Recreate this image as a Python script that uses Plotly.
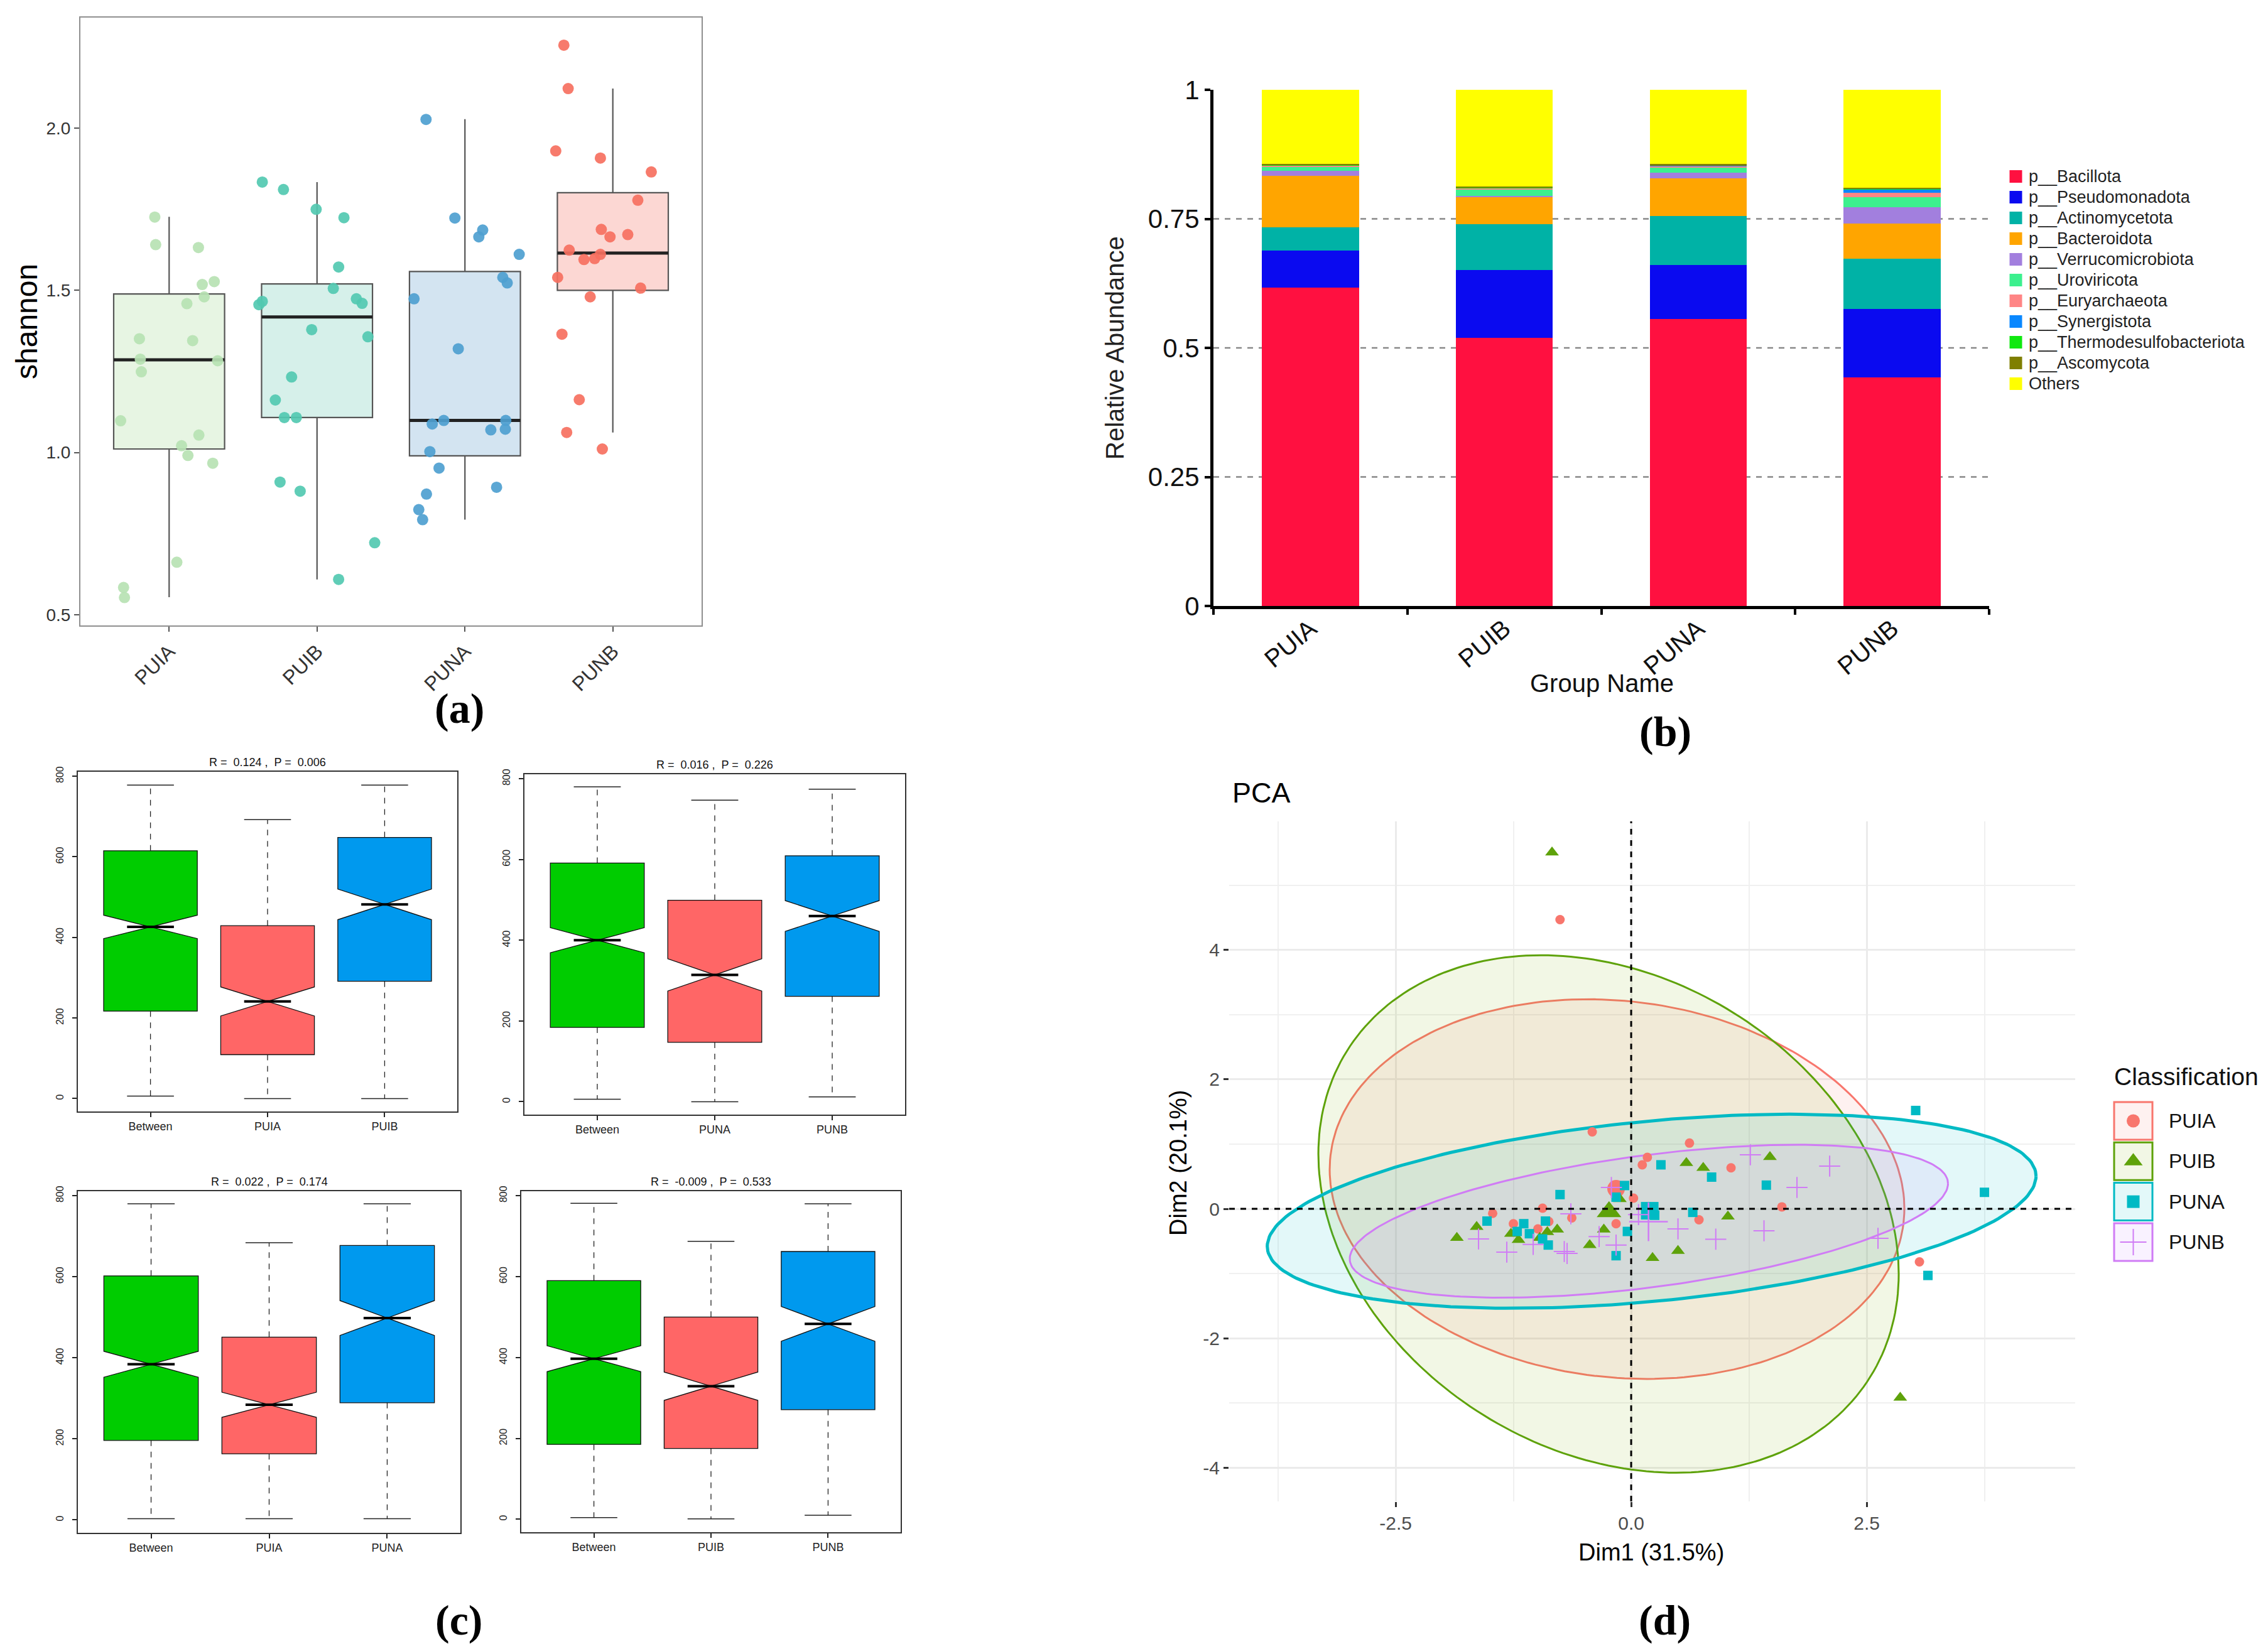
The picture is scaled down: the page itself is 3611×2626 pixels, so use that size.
import numpy as np
import plotly.graph_objects as go

W, H = 3611, 2626
def px(x):
    return x / W
def py(y):
    return 1 - y / H

FONT = "Liberation Sans, Arial, sans-serif"
SERIF = "Liberation Serif, Times New Roman, serif"

# ---------------- Panel (a): shannon boxplots ----------------
A_GROUPS = ["PUIA", "PUIB", "PUNA", "PUNB"]
A_Q1 = [1.011, 1.108, 0.990, 1.500]
A_MED = [1.286, 1.418, 1.099, 1.615]
A_Q3 = [1.489, 1.520, 1.558, 1.801]
A_LO = [0.554, 0.609, 0.793, 1.062]
A_HI = [1.727, 1.834, 2.028, 2.122]
A_PUIA_X = [0.903, 0.909, 1.198, 1.224, 1.305, 1.120, 1.237, 0.799, 1.159, 0.805,
            1.328, 0.812, 0.672, 1.084, 1.127, 1.201, 1.295, 1.052, 0.692, 0.698]
A_PUIA_Y = [1.726, 1.641, 1.632, 1.518, 1.527, 1.459, 1.480, 1.351, 1.345, 1.288,
            1.283, 1.249, 1.098, 1.021, 0.991, 1.054, 0.967, 0.662, 0.584, 0.553]
A_PUIB_X = [1.630, 1.773, 1.994, 2.182, 2.146, 2.110, 1.630, 1.607, 2.266, 2.305,
            1.964, 2.344, 1.828, 1.718, 1.779, 1.860, 1.750, 1.886, 2.390, 2.146]
A_PUIB_Y = [1.834, 1.811, 1.750, 1.724, 1.572, 1.506, 1.466, 1.456, 1.474, 1.460,
            1.379, 1.357, 1.233, 1.162, 1.108, 1.108, 0.909, 0.881, 0.722, 0.609]
A_PUNA_X = [2.737, 2.932, 3.120, 3.094, 3.367, 3.256, 3.286, 2.656, 2.955, 2.779,
            2.857, 3.175, 3.276, 3.273, 2.763, 2.825, 3.214, 2.740, 2.688, 2.714]
A_PUNA_Y = [2.027, 1.723, 1.686, 1.665, 1.611, 1.540, 1.523, 1.474, 1.320, 1.088,
            1.099, 1.070, 1.099, 1.072, 1.003, 0.952, 0.893, 0.872, 0.824, 0.793]
A_PUNB_X = [3.669, 3.698, 3.614, 3.916, 4.260, 4.169, 3.922, 3.981, 4.101, 3.705,
            3.805, 3.877, 3.916, 3.627, 4.188, 3.847, 3.656, 3.773, 3.688, 3.929]
A_PUNB_Y = [2.256, 2.122, 1.930, 1.908, 1.865, 1.778, 1.688, 1.665, 1.672, 1.624,
            1.595, 1.598, 1.611, 1.540, 1.507, 1.480, 1.365, 1.163, 1.062, 1.011]
A_PTS_X = [A_PUIA_X, A_PUIB_X, A_PUNA_X, A_PUNB_X]
A_PTS_Y = [A_PUIA_Y, A_PUIB_Y, A_PUNA_Y, A_PUNB_Y]
A_BOX_FILL = ["#E7F5E3", "#D6F0EA", "#D3E4F1", "#FCD7D3"]
A_PT_COL = ["#B7E2B3", "#52C9B1", "#4E9FD0", "#F6705F"]

# ---------------- Panel (b): relative abundance ----------------
B_GROUPS = ["PUIA", "PUIB", "PUNA", "PUNB"]
B_TAXA = ["p__Bacillota", "p__Pseudomonadota", "p__Actinomycetota", "p__Bacteroidota",
          "p__Verrucomicrobiota", "p__Uroviricota", "p__Euryarchaeota", "p__Synergistota",
          "p__Thermodesulfobacteriota", "p__Ascomycota", "Others"]
B_BACILLOTA = [0.617, 0.519, 0.556, 0.443]
B_PSEUDOMONADOTA = [0.072, 0.132, 0.104, 0.133]
B_ACTINOMYCETOTA = [0.044, 0.089, 0.095, 0.097]
B_BACTEROIDOTA = [0.100, 0.053, 0.073, 0.068]
B_VERRUCOMICROBIOTA = [0.010, 0.002, 0.012, 0.032]
B_UROVIRICOTA = [0.008, 0.012, 0.010, 0.019]
B_EURYARCHAEOTA = [0.002, 0.002, 0.002, 0.009]
B_SYNERGISTOTA = [0.001, 0.001, 0.001, 0.006]
B_THERMODESULFO = [0.001, 0.001, 0.001, 0.001]
B_ASCOMYCOTA = [0.002, 0.002, 0.002, 0.002]
B_OTHERS = [0.143, 0.187, 0.144, 0.190]
B_VALUES = [B_BACILLOTA, B_PSEUDOMONADOTA, B_ACTINOMYCETOTA, B_BACTEROIDOTA,
            B_VERRUCOMICROBIOTA, B_UROVIRICOTA, B_EURYARCHAEOTA, B_SYNERGISTOTA,
            B_THERMODESULFO, B_ASCOMYCOTA, B_OTHERS]
B_COLORS = ["#FF1040", "#0A0AF0", "#00B2A6", "#FFA500", "#A27FDE", "#3CF08E",
            "#FF8585", "#0A88FF", "#10E810", "#7F7F00", "#FFFF00"]
B_GRID = [0.25, 0.5, 0.75]
B_TICKS = [0, 0.25, 0.5, 0.75, 1]
B_TICKTEXT = ["0", "0.25", "0.5", "0.75", "1"]

# ---------------- Panel (c): ANOSIM boxplots ----------------
C_TITLES = ["R =  0.124 ,  P =  0.006", "R =  0.016 ,  P =  0.226",
            "R =  0.022 ,  P =  0.174", "R =  -0.009 ,  P =  0.533"]
C_LABELS = [["Between", "PUIA", "PUIB"], ["Between", "PUNA", "PUNB"],
            ["Between", "PUIA", "PUNA"], ["Between", "PUIB", "PUNB"]]
C_Q1 = [[217, 109, 291], [184, 147, 261], [196, 163, 289], [185, 175, 271]]
C_MED = [[426, 241, 482], [400, 314, 460], [384, 284, 498], [397, 329, 483]]
C_Q3 = [[615, 429, 648], [591, 499, 609], [602, 451, 677], [590, 500, 662]]
C_LO = [[6, 0, 0], [6, 0, 12], [3, 3, 3], [4, 1, 10]]
C_HI = [[778, 692, 778], [780, 747, 774], [780, 684, 780], [781, 687, 780]]
C_NOTCH = [[29, 36, 38], [31, 40, 38], [32, 31, 43], [32, 35, 43]]
C_COLORS = ["#00CC00", "#FF6666", "#0099EE"]
C_YTICKS = [0, 200, 400, 600, 800]

# ---------------- Panel (d): PCA ----------------
D_GROUPS = ["PUIA", "PUIB", "PUNA", "PUNB"]
D_PUIA_X = [-0.755, -0.413, 0.172, 0.118, 0.619, 1.06, 0.025, 1.6, 0.72, 3.06,
            -0.94, -1.47, -0.63, -0.16, -1.25, -0.99, -0.874]
D_PUIA_Y = [4.47, 1.19, 0.796, 0.68, 1.016, 0.634, 0.165, 0.03, -0.17, -0.82,
            0.01, -0.07, -0.14, -0.23, -0.23, -0.31, -0.197]
D_PUIB_X = [-0.84, 2.856, -1.85, -1.64, -1.276, -1.196, -0.97, -0.89, -0.785, -0.44,
            -0.29, 0.227, 0.586, 0.765, 1.473, 1.027, 0.497, -0.12]
D_PUIB_Y = [5.51, -2.92, -0.45, -0.28, -0.385, -0.48, -0.45, -0.36, -0.32, -0.56,
            -0.32, -0.76, 0.709, 0.634, 0.80, -0.12, -0.65, 0.15]
D_PUNA_X = [-0.755, -1.53, -1.14, -1.21, -1.08, -0.91, -0.94, -0.88, -0.16, -0.04,
            -0.07, -0.16, 0.316, 0.854, 1.435, 0.654, 3.02, 3.75, 3.15, 0.25]
D_PUNA_Y = [0.22, -0.19, -0.23, -0.35, -0.385, -0.19, -0.466, -0.56, -0.725, -0.35,
            0.36, 0.18, 0.68, 0.49, 0.366, -0.055, 1.52, 0.255, -1.03, -0.1]
D_PUNB_X = [-1.62, -1.32, -1.04, -0.71, -0.68, -0.64, -0.34, -0.16, -0.21, 0.078,
            0.497, 0.898, 1.41, 1.265, 1.76, 2.107, 2.62]
D_PUNB_Y = [-0.466, -0.67, -0.55, -0.66, -0.69, -0.078, -0.43, -0.56, 0.33, -0.09,
            -0.31, -0.47, -0.34, 0.835, 0.33, 0.66, -0.456]
D_PTS_X = [D_PUIA_X, D_PUIB_X, D_PUNA_X, D_PUNB_X]
D_PTS_Y = [D_PUIA_Y, D_PUIB_Y, D_PUNA_Y, D_PUNB_Y]
D_CENT_X = [-0.16, -0.235, 0.197, 0.184]
D_CENT_Y = [0.31, -0.045, -0.03, -0.20]
# ellipse: centre x, centre y, half-width, y-offset of rightmost point, half-height
D_ELL_CX = [-0.15, -0.24, 0.2175, 0.188]
D_ELL_CY = [0.305, -0.08, -0.0375, -0.192]
D_ELL_A = [3.05, 3.08, 4.08, 3.175]
D_ELL_U = [-0.30, -0.93, 0.5425, 0.582]
D_ELL_E = [2.935, 4.00, 1.50, 1.182]
D_COLORS = ["#F8766D", "#5EA20A", "#00BAC4", "#D07CF5"]
D_FILLS = ["rgba(248,118,109,0.10)", "rgba(124,174,0,0.10)",
           "rgba(0,191,196,0.11)", "rgba(199,124,255,0.10)"]
D_LINEW = [3, 3, 5, 3]
D_SYMBOLS = ["circle", "triangle-up", "square", "cross-thin-open"]
D_SIZES = [15, 19, 15, 24]
D_CSIZES = [28, 34, 28, 44]

fig = go.Figure()

# ---- Panel a traces
for i, g in enumerate(A_GROUPS):
    fig.add_trace(go.Box(x=[i + 1], q1=[A_Q1[i]], median=[A_MED[i]], q3=[A_Q3[i]],
                         lowerfence=[A_LO[i]], upperfence=[A_HI[i]], width=0.75,
                         fillcolor=A_BOX_FILL[i], line=dict(color="#555555", width=2.2),
                         whiskerwidth=0, xaxis="x", yaxis="y", hoverinfo="skip"))
    fig.add_trace(go.Scatter(x=[i + 1 - 0.375, i + 1 + 0.375], y=[A_MED[i], A_MED[i]],
                             mode="lines", line=dict(color="#222222", width=5),
                             xaxis="x", yaxis="y", hoverinfo="skip"))
for i, g in enumerate(A_GROUPS):
    fig.add_trace(go.Scatter(x=A_PTS_X[i], y=A_PTS_Y[i], mode="markers",
                             marker=dict(color=A_PT_COL[i], size=18, opacity=0.92),
                             xaxis="x", yaxis="y", hoverinfo="skip"))

# ---- Panel b traces
for name, vals, col in zip(B_TAXA, B_VALUES, B_COLORS):
    fig.add_trace(go.Bar(x=B_GROUPS, y=vals, name=name, marker=dict(color=col, line=dict(width=0)),
                         width=0.5, xaxis="x2", yaxis="y2", hoverinfo="skip"))

# ---- Panel c traces
for k in range(4):
    xa, ya = "x%d" % (k + 3), "y%d" % (k + 3)
    wx, wy, cx_, cy_, mx, my = [], [], [], [], [], []
    for j in range(3):
        pos = j + 1
        fig.add_trace(go.Box(x=[pos], q1=[C_Q1[k][j]], median=[C_MED[k][j]], q3=[C_Q3[k][j]],
                             lowerfence=[C_Q1[k][j]], upperfence=[C_Q3[k][j]],
                             notched=True, notchspan=[C_NOTCH[k][j]], notchwidth=0.5,
                             width=0.8, fillcolor=C_COLORS[j],
                             line=dict(color="#111111", width=1.3), whiskerwidth=0,
                             xaxis=xa, yaxis=ya, hoverinfo="skip"))
        wx += [pos, pos, None, pos, pos, None]
        wy += [C_Q3[k][j], C_HI[k][j], None, C_Q1[k][j], C_LO[k][j], None]
        cx_ += [pos - 0.2, pos + 0.2, None, pos - 0.2, pos + 0.2, None]
        cy_ += [C_HI[k][j], C_HI[k][j], None, C_LO[k][j], C_LO[k][j], None]
        mx += [pos - 0.2, pos + 0.2, None]
        my += [C_MED[k][j], C_MED[k][j], None]
    fig.add_trace(go.Scatter(x=wx, y=wy, mode="lines", line=dict(color="#222222", width=1.3, dash="dash"),
                             xaxis=xa, yaxis=ya, hoverinfo="skip"))
    fig.add_trace(go.Scatter(x=cx_, y=cy_, mode="lines", line=dict(color="#222222", width=1.5),
                             xaxis=xa, yaxis=ya, hoverinfo="skip"))
    fig.add_trace(go.Scatter(x=mx, y=my, mode="lines", line=dict(color="#000000", width=4),
                             xaxis=xa, yaxis=ya, hoverinfo="skip"))

# ---- Panel d traces
t = np.linspace(0, 2 * np.pi, 241)
for i, g in enumerate(D_GROUPS):
    v = np.sqrt(D_ELL_E[i] ** 2 - D_ELL_U[i] ** 2)
    ex = D_ELL_CX[i] + D_ELL_A[i] * np.cos(t)
    ey = D_ELL_CY[i] + D_ELL_U[i] * np.cos(t) + v * np.sin(t)
    fig.add_trace(go.Scatter(x=ex, y=ey, mode="lines", fill="toself", fillcolor=D_FILLS[i],
                             line=dict(color=D_COLORS[i], width=D_LINEW[i]),
                             xaxis="x7", yaxis="y7", hoverinfo="skip"))
for i, g in enumerate(D_GROUPS):
    mk = dict(color=D_COLORS[i], size=D_SIZES[i], symbol=D_SYMBOLS[i])
    if i == 3:
        mk["line"] = dict(color=D_COLORS[i], width=2)
    fig.add_trace(go.Scatter(x=D_PTS_X[i], y=D_PTS_Y[i], mode="markers", marker=mk,
                             xaxis="x7", yaxis="y7", hoverinfo="skip"))
    mk2 = dict(mk)
    mk2["size"] = D_CSIZES[i]
    if i == 3:
        mk2["line"] = dict(color=D_COLORS[i], width=2.5)
    fig.add_trace(go.Scatter(x=[D_CENT_X[i]], y=[D_CENT_Y[i]], mode="markers", marker=mk2,
                             xaxis="x7", yaxis="y7", hoverinfo="skip"))

shapes = []
annotations = []

def pann(x, y, text, size, family=FONT, color="black", angle=0, xanchor="center", yanchor="middle"):
    return dict(x=px(x), y=py(y), xref="paper", yref="paper", text=text, showarrow=False,
                textangle=angle, xanchor=xanchor, yanchor=yanchor,
                font=dict(family=family, size=size, color=color))

# ---- Panel b legend (own small axis in pixel-like units)
LEGB_Y0, LEGB_DY = 273, 33
for i, name in enumerate(B_TAXA):
    yc = LEGB_Y0 + LEGB_DY * i
    fig.add_trace(go.Scatter(x=[3201.5], y=[yc], mode="markers",
                             marker=dict(symbol="square", size=20, color=B_COLORS[i]),
                             xaxis="x9", yaxis="y9", hoverinfo="skip"))
    annotations.append(dict(x=3220, y=yc, xref="x9", yref="y9", text=name, showarrow=False,
                            xanchor="left", yanchor="middle",
                            font=dict(family=FONT, size=27, color="#222222")))

# ---- Panel d legend (own small axis in pixel-like units)
LEG_Y0, LEG_DY = 1777, 64.3
for i, g in enumerate(D_GROUPS):
    yc = LEG_Y0 + LEG_DY * i
    shapes.append(dict(type="rect", xref="x8", yref="y8", x0=3358, x1=3419, y0=yc - 30, y1=yc + 30,
                       line=dict(color=D_COLORS[i], width=3), fillcolor=D_FILLS[i], layer="below"))
    mk = dict(color=D_COLORS[i], size=[21, 26, 20, 30][i], symbol=D_SYMBOLS[i])
    if i == 3:
        mk["line"] = dict(color=D_COLORS[i], width=2)
    fig.add_trace(go.Scatter(x=[3388.5], y=[yc], mode="markers", marker=mk,
                             xaxis="x8", yaxis="y8", hoverinfo="skip"))
    annotations.append(dict(x=3443, y=yc, xref="x8", yref="y8", text=g, showarrow=False,
                            xanchor="left", yanchor="middle", font=dict(family=FONT, size=32, color="#111111")))

annotations.append(pann(3356, 1706, "Classification", 39, color="#111111", xanchor="left"))

# ---- zero lines (panel d)
shapes.append(dict(type="line", xref="x7", yref="y7 domain", x0=0, x1=0, y0=0, y1=1,
                   line=dict(color="black", width=3, dash="dash"), layer="above"))
shapes.append(dict(type="line", xref="x7 domain", yref="y7", x0=0, x1=1, y0=0, y1=0,
                   line=dict(color="black", width=3, dash="dash"), layer="above"))
# ---- grid lines (panel b)
for gv in B_GRID:
    shapes.append(dict(type="line", xref="x2 domain", yref="y2", x0=0, x1=1, y0=gv, y1=gv,
                       line=dict(color="#888888", width=2.5, dash="dash"), layer="below"))

# ---- text annotations
annotations += [
    pann(34, 504, "shannon", 48, angle=-90),
    pann(1767, 546, "Relative Abundance", 40, color="#222222", angle=-90),
    pann(2542, 1080, "Group Name", 40, color="#111111"),
    pann(1952, 1254, "PCA", 45, xanchor="left"),
    pann(2621, 2464, "Dim1 (31.5%)", 38),
    pann(1868, 1844, "Dim2 (20.1%)", 38, angle=-90),
]
for lab, (lx, ly) in zip(["(a)", "(b)", "(c)", "(d)"], [(723, 1120), (2643, 1157), (722, 2572), (2642, 2572)]):
    annotations.append(pann(lx, ly, "<b>%s</b>" % lab, 68, family=SERIF))

# panel c frames (x0, x1, y_top, y_bottom)
C_FRAMES = [(116, 720, 1221, 1762), (827, 1433, 1225, 1767), (116, 725, 1889, 2433), (822, 1426, 1889, 2432)]
for k, (x0, x1, yt, yb) in enumerate(C_FRAMES):
    annotations.append(pann((x0 + x1) / 2, yt - 3, C_TITLES[k], 18, color="#111111", yanchor="bottom"))

layout = dict(
    width=W, height=H, autosize=False, margin=dict(l=0, r=0, t=0, b=0),
    paper_bgcolor="white", plot_bgcolor="white", template="none",
    barmode="stack", boxmode="overlay", hovermode=False, showlegend=False,
    font=dict(family=FONT, color="#222222"),
    shapes=shapes, annotations=annotations,
)

# panel a axes
layout["xaxis"] = dict(domain=[px(120), px(1109)], range=[0.4, 4.6], tickvals=[1, 2, 3, 4],
                       ticktext=A_GROUPS, tickangle=-45, ticks="outside", ticklen=8, tickwidth=2,
                       tickcolor="#555555", showline=True, mirror=True, linecolor="#8f8f8f",
                       linewidth=2, showgrid=False, zeroline=False, anchor="y",
                       tickfont=dict(family=FONT, size=32, color="#333333"))
layout["yaxis"] = dict(domain=[py(988), py(20)], range=[0.467, 2.341], tickvals=[0.5, 1, 1.5, 2],
                       ticktext=["0.5", "1.0", "1.5", "2.0"], ticks="outside", ticklen=8, tickwidth=2,
                       tickcolor="#555555", showline=True, mirror=True, linecolor="#8f8f8f",
                       linewidth=2, showgrid=False, zeroline=False, anchor="x",
                       tickfont=dict(family=FONT, size=28, color="#333333"))
# panel b axes
layout["xaxis2"] = dict(domain=[px(1924), px(3159)], type="category", range=[-0.5, 3.5],
                        tickson="boundaries", ticks="outside", ticklen=9, tickwidth=4, tickcolor="black",
                        showline=True, linecolor="black", linewidth=5, showgrid=False, zeroline=False,
                        tickangle=-40, ticklabelstandoff=-8, anchor="y2",
                        tickfont=dict(family=FONT, size=40, color="#111111"))
layout["yaxis2"] = dict(domain=[py(957), py(135)], range=[0, 1], tickvals=B_TICKS, ticktext=B_TICKTEXT,
                        ticks="outside", ticklen=9, tickwidth=4, tickcolor="black", showline=True,
                        linecolor="black", linewidth=5, showgrid=False, zeroline=False, anchor="x2",
                        tickfont=dict(family=FONT, size=42, color="#111111"))
# panel c axes
for k, (x0, x1, yt, yb) in enumerate(C_FRAMES):
    n = k + 3
    layout["xaxis%d" % n] = dict(domain=[px(x0), px(x1)], range=[0.38, 3.62], tickvals=[1, 2, 3],
                                 ticktext=C_LABELS[k], ticks="outside", ticklen=7, tickwidth=1.5,
                                 tickcolor="#222222", showline=True, mirror=True, linecolor="#333333",
                                 linewidth=1.5, showgrid=False, zeroline=False, anchor="y%d" % n,
                                 tickfont=dict(family=FONT, size=18, color="#222222"))
    layout["yaxis%d" % n] = dict(domain=[py(yb), py(yt)], range=[-32, 811], tickvals=C_YTICKS,
                                 ticks="outside", ticklen=7, tickwidth=1.5, tickcolor="#222222",
                                 tickangle=-90, showline=True, mirror=True, linecolor="#333333",
                                 linewidth=1.5, showgrid=False, zeroline=False, anchor="x%d" % n,
                                 ticklabelstandoff=8,
                                 tickfont=dict(family=FONT, size=16, color="#222222"))
# panel d axes
layout["xaxis7"] = dict(domain=[px(1949), px(3296)], range=[-4.267, 4.713], tickvals=[-2.5, 0, 2.5],
                        ticktext=["-2.5", "0.0", "2.5"], ticks="outside", ticklen=8, tickwidth=3,
                        tickcolor="#333333", showline=False, showgrid=True, gridcolor="#EBEBEB",
                        gridwidth=3, zeroline=False, anchor="y7",
                        minor=dict(tickvals=[-3.75, -1.25, 1.25, 3.75], showgrid=True,
                                   gridcolor="#F0F0F0", gridwidth=1.5, ticks=""),
                        tickfont=dict(family=FONT, size=30, color="#4D4D4D"))
layout["yaxis7"] = dict(domain=[py(2383), py(1300)], range=[-4.524, 5.99], tickvals=[-4, -2, 0, 2, 4],
                        ticktext=["-4", "-2", "0", "2", "4"], ticks="outside", ticklen=8, tickwidth=3,
                        tickcolor="#333333", showline=False, showgrid=True, gridcolor="#EBEBEB",
                        gridwidth=3, zeroline=False, anchor="x7",
                        minor=dict(tickvals=[-3, -1, 1, 3, 5], showgrid=True,
                                   gridcolor="#F0F0F0", gridwidth=1.5, ticks=""),
                        tickfont=dict(family=FONT, size=30, color="#4D4D4D"))
# legend axes
layout["xaxis8"] = dict(domain=[px(3340), px(3611)], range=[3340, 3611], visible=False, anchor="y8")
layout["yaxis8"] = dict(domain=[py(2010), py(1740)], range=[2010, 1740], visible=False, anchor="x8")
layout["xaxis9"] = dict(domain=[px(3170), px(3611)], range=[3170, 3611], visible=False, anchor="y9")
layout["yaxis9"] = dict(domain=[py(640), py(240)], range=[640, 240], visible=False, anchor="x9")

fig.update_layout(**layout)
fig.write_html("out.html")
